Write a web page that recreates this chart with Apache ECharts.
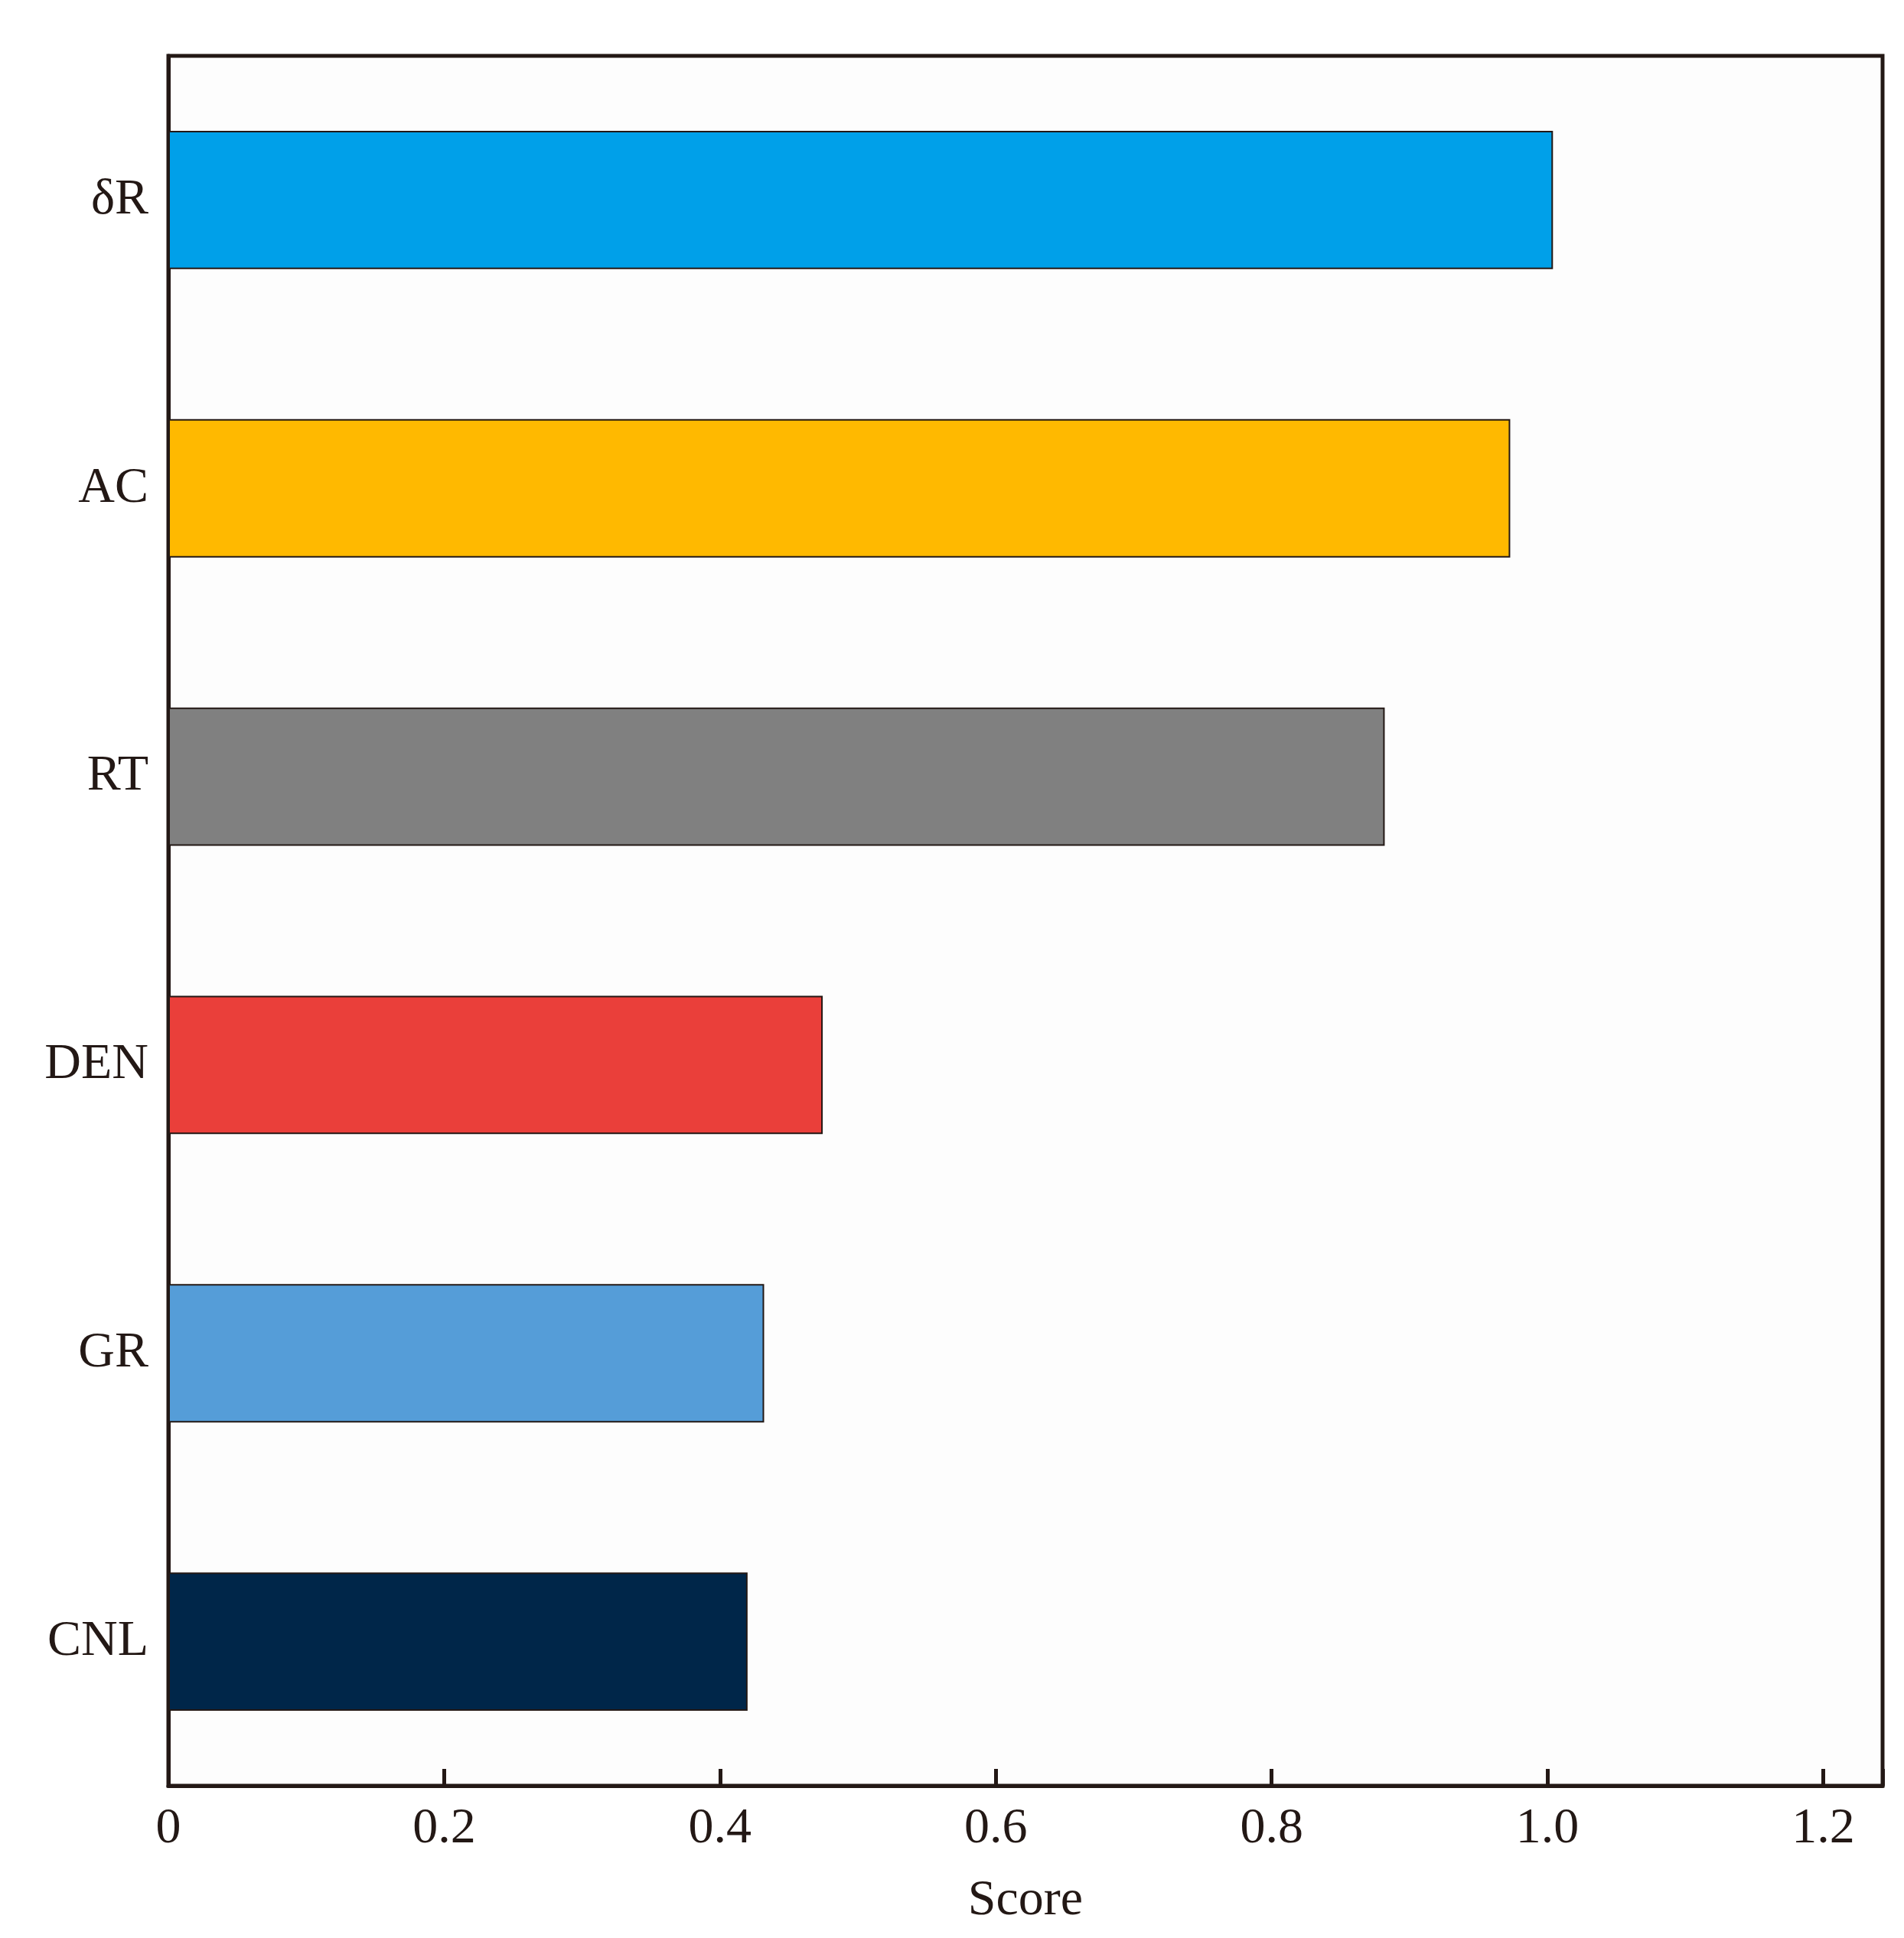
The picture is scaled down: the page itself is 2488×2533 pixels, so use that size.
<!DOCTYPE html>
<html><head><meta charset="utf-8">
<script src="https://cdn.jsdelivr.net/npm/echarts@6/dist/echarts.min.js"></script>
<style>html,body{margin:0;padding:0;background:#fff}#c{width:2488px;height:2533px}</style>
</head><body><div id="c"></div>
<script>
const categories = ['δR','AC','RT','DEN','GR','CNL'];
const scores = [1.004, 0.973, 0.882, 0.4745, 0.432, 0.420];
const colors = ['#00A0E9','#FFB900','#808080','#EA3F3A','#559DD8','#002649'];
const xTicks = [0, 0.2, 0.4, 0.6, 0.8, 1.0, 1.2];
const font = 'Liberation Serif';
const chart = echarts.init(document.getElementById('c'));
chart.setOption({
  backgroundColor:'#fff',
  animation:false,
  grid:{left:220,right:28,top:73,bottom:199,show:true,borderColor:'#231815',borderWidth:5,backgroundColor:'#fdfdfd'},
  xAxis:{type:'value',min:0,max:1.243,interval:0.2,
    name:'Score',nameLocation:'middle',nameGap:118,
    nameTextStyle:{fontFamily:font,fontSize:66,color:'#231815'},
    axisLine:{show:true,lineStyle:{color:'#231815',width:5}},
    axisTick:{show:true,inside:true,length:22,lineStyle:{color:'#231815',width:5}},
    splitLine:{show:false},
    axisLabel:{fontFamily:font,fontSize:66,color:'#231815',margin:24,
      formatter:v=>{const t=xTicks.find(x=>Math.abs(x-v)<1e-6);return t===undefined?'':(t===0?'0':t.toFixed(1));}}
  },
  yAxis:{type:'category',data:categories,inverse:true,
    axisLine:{show:true,lineStyle:{color:'#231815',width:5}},
    axisTick:{show:false},
    axisLabel:{fontFamily:font,fontSize:66,color:'#231815',margin:26}
  },
  series:[{type:'bar',barWidth:'48%',
    data:scores.map((v,i)=>({value:v,itemStyle:{color:colors[i]}})),
    itemStyle:{borderColor:'#231815',borderWidth:2}
  }]
});
</script></body></html>
